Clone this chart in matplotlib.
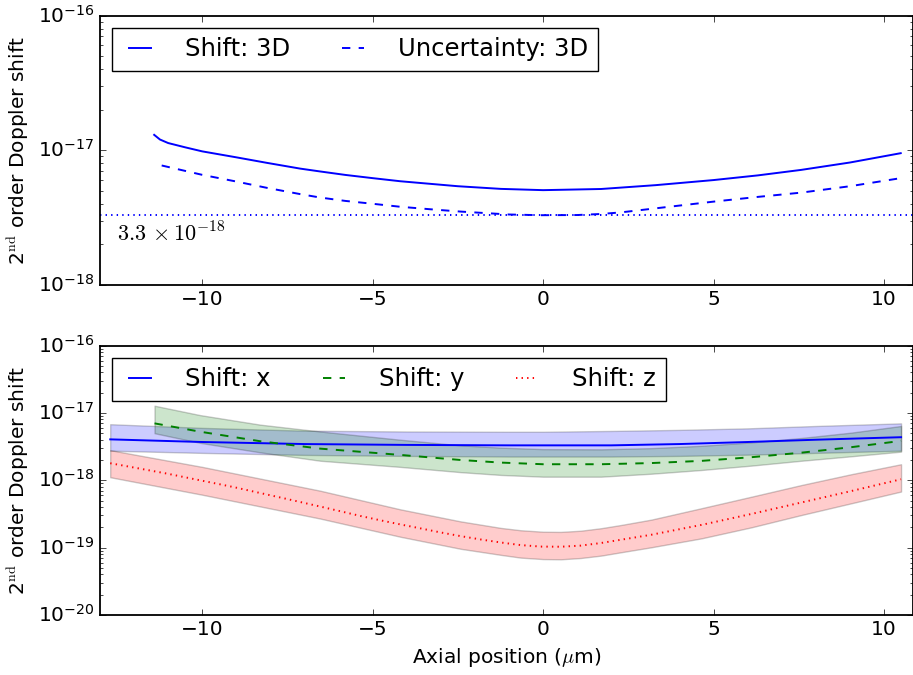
import numpy as np
import matplotlib
matplotlib.use("Agg")
import matplotlib.pyplot as plt

plt.style.use('classic')
plt.rcParams['mathtext.fontset'] = 'dejavusans'
plt.rcParams['font.size'] = 14.5
plt.rcParams['axes.linewidth'] = 1.3
plt.rcParams['lines.linewidth'] = 1.4

# top panel: 3D shift and its uncertainty
x_shift3d = [-11.41, -11.24, -11.0, -10.5, -10.0, -9.0, -8.1, -7.13, -6.54, -5.8, -5.0,
             -4.19, -2.5, -1.24, 0.0, 1.7, 3.3, 5.0, 6.3, 7.57, 9.0, 10.49]
shift3d = [13.0e-18, 12.0e-18, 11.3e-18, 10.5e-18, 9.8e-18, 8.85e-18, 8.05e-18, 7.3e-18,
           6.95e-18, 6.55e-18, 6.2e-18, 5.88e-18, 5.4e-18, 5.16e-18, 5.05e-18, 5.15e-18,
           5.5e-18, 6.0e-18, 6.5e-18, 7.14e-18, 8.1e-18, 9.5e-18]
x_unc3d = [-11.19, -10.0, -9.0, -8.1, -7.13, -6.54, -5.8, -5.0, -4.19, -3.3, -2.42, -1.0,
           -0.07, 1.0, 1.7, 2.27, 3.5, 5.0, 6.3, 7.57, 9.0, 10.49]
unc3d = [7.7e-18, 6.56e-18, 5.85e-18, 5.25e-18, 4.72e-18, 4.45e-18, 4.2e-18, 4.0e-18,
         3.8e-18, 3.64e-18, 3.5e-18, 3.33e-18, 3.29e-18, 3.3e-18, 3.36e-18, 3.45e-18,
         3.75e-18, 4.15e-18, 4.5e-18, 4.84e-18, 5.4e-18, 6.2e-18]
floor3d = 3.3e-18

# bottom panel: per-axis shifts with bands
x_sx = [-12.7, -10.0, -7.0, -4.0, -1.0, 0.0, 2.0, 4.0, 6.0, 8.0, 10.5]
sx = [4.05e-18, 3.7e-18, 3.45e-18, 3.35e-18, 3.3e-18, 3.3e-18, 3.3e-18, 3.45e-18,
      3.7e-18, 4.0e-18, 4.36e-18]
sx_hi = [6.8e-18, 6.0e-18, 5.45e-18, 5.3e-18, 5.25e-18, 5.25e-18, 5.4e-18, 5.6e-18,
         5.9e-18, 6.4e-18, 7.0e-18]
sx_lo = [2.75e-18, 2.55e-18, 2.38e-18, 2.3e-18, 2.25e-18, 2.25e-18, 2.25e-18, 2.3e-18,
         2.4e-18, 2.55e-18, 2.75e-18]

x_sy = [-11.4, -10.07, -8.3, -6.54, -4.19, -2.42, -1.24, 0.0, 1.7, 3.17, 4.64, 6.11,
        7.58, 9.04, 10.5]
sy = [7.0e-18, 5.27e-18, 3.8e-18, 2.95e-18, 2.38e-18, 2.0e-18, 1.83e-18, 1.73e-18,
      1.73e-18, 1.8e-18, 1.94e-18, 2.2e-18, 2.57e-18, 3.1e-18, 3.84e-18]
sy_hi = [12.8e-18, 9.3e-18, 6.7e-18, 5.3e-18, 4.0e-18, 3.3e-18, 3.05e-18, 2.9e-18,
         2.88e-18, 3.0e-18, 3.25e-18, 3.65e-18, 4.25e-18, 5.1e-18, 6.4e-18]
sy_lo = [5.0e-18, 3.6e-18, 2.6e-18, 1.95e-18, 1.58e-18, 1.32e-18, 1.2e-18, 1.13e-18,
         1.13e-18, 1.25e-18, 1.42e-18, 1.65e-18, 1.95e-18, 2.27e-18, 2.66e-18]

x_sz = [-12.7, -12.45, -11.05, -9.09, -7.5, -6.54, -5.95, -5.36, -4.77, -4.19, -3.6,
        -3.01, -2.42, -1.83, -1.24, -0.66, -0.07, 0.52, 1.1, 1.7, 3.17, 4.64, 6.11,
        7.58, 9.04, 10.5]
sz = [1.79e-18, 1.70e-18, 1.26e-18, 7.94e-19, 5.25e-19, 4.07e-19, 3.47e-19, 2.95e-19,
      2.54e-19, 2.21e-19, 1.93e-19, 1.68e-19, 1.48e-19, 1.32e-19, 1.19e-19, 1.09e-19,
      1.035e-19, 1.03e-19, 1.07e-19, 1.17e-19, 1.55e-19, 2.17e-19, 3.16e-19, 4.68e-19,
      6.92e-19, 1.035e-18]
x_szband = [-12.7, -10.0, -6.54, -4.19, -2.42, -1.24, -0.66, 0.0, 0.52, 1.1, 1.7, 2.27,
            3.17, 4.64, 6.11, 7.58, 9.04, 10.5]
sz_hi = [2.8e-18, 1.58e-18, 7.0e-19, 3.7e-19, 2.45e-19, 1.96e-19, 1.81e-19, 1.72e-19,
         1.71e-19, 1.78e-19, 1.94e-19, 2.16e-19, 2.6e-19, 3.84e-19, 5.7e-19, 8.5e-19,
         1.23e-18, 1.73e-18]
sz_lo = [1.11e-18, 6.1e-19, 2.7e-19, 1.45e-19, 9.6e-20, 7.8e-20, 7.1e-20, 6.75e-20,
         6.7e-20, 7.0e-20, 7.6e-20, 8.5e-20, 1.01e-19, 1.37e-19, 2.0e-19, 3.05e-19,
         4.55e-19, 6.8e-19]

fig = plt.figure(figsize=(9.13, 6.75), dpi=100, facecolor='white')
ax1 = fig.add_axes([0.1095, 0.578, 0.8905, 0.399])
ax2 = fig.add_axes([0.1095, 0.089, 0.8905, 0.399])

ylab = r'2$^{\rm nd}$ order Doppler shift'
leg_kw = dict(loc='upper left', fontsize=17.5, handlelength=1.5, handletextpad=1.1,
              columnspacing=1.85, borderpad=0.4, borderaxespad=0.5)

ax1.plot(x_shift3d, shift3d, 'b-', label='Shift: 3D')
ax1.plot(x_unc3d, unc3d, 'b--', label='Uncertainty: 3D')
ax1.axhline(floor3d, color='b', linestyle=':')
ax1.text(-12.5, 2.4e-18, r'$3.3\,\times10^{-18}$', fontsize=16, va='center',
         math_fontfamily='cm')
ax1.set_yscale('log')
ax1.set_ylim(1e-18, 1e-16)
ax1.set_xlim(-13, 10.85)
ax1.set_ylabel(ylab, math_fontfamily='cm')
ax1.legend(ncol=2, **leg_kw)

ax2.fill_between(x_sx, sx_lo, sx_hi, facecolor='b', edgecolor='k', alpha=0.2)
ax2.fill_between(x_sy, sy_lo, sy_hi, facecolor='g', edgecolor='k', alpha=0.2)
ax2.fill_between(x_szband, sz_lo, sz_hi, facecolor='r', edgecolor='k', alpha=0.2)
ax2.plot(x_sx, sx, 'b-', label='Shift: x')
ax2.plot(x_sy, sy, 'g--', label='Shift: y')
ax2.plot(x_sz, sz, 'r:', label='Shift: z')
ax2.set_yscale('log')
ax2.set_ylim(1e-20, 1e-16)
ax2.set_xlim(-13, 10.85)
ax2.set_ylabel(ylab, math_fontfamily='cm')
ax2.set_xlabel(r'Axial position ($\mu$m)', math_fontfamily='cm')
ax2.legend(ncol=3, **leg_kw)

fig.savefig('out.png', dpi=100, facecolor='white')
